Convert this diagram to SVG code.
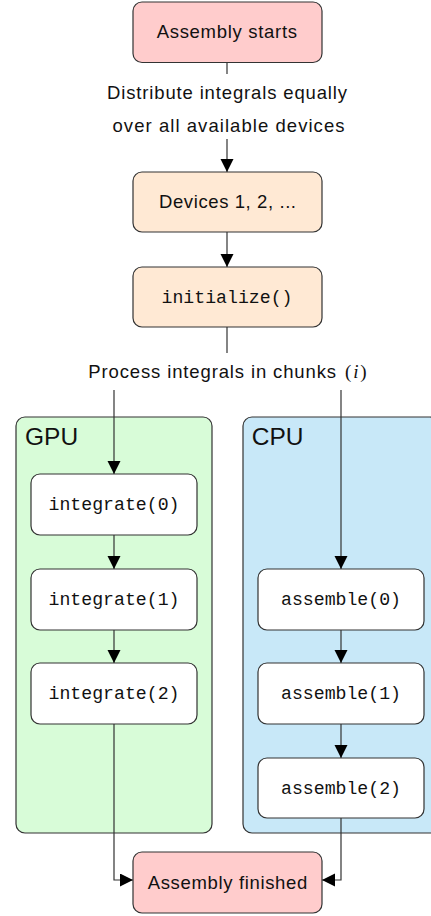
<svg xmlns="http://www.w3.org/2000/svg" width="431" height="916" viewBox="0 0 431 916">
<style>
.bg{fill:#ffffff}
.box{stroke:#333333;stroke-width:1.2}
.pink{fill:#ffcccc}
.peach{fill:#ffe9d4}
.white{fill:#ffffff}
.gpu{fill:#d8fcd8;stroke:#333333;stroke-width:1.2}
.cpu{fill:#c8e8f8;stroke:#333333;stroke-width:1.2}
.sans{font-family:"Liberation Sans",Arial,Helvetica,sans-serif;font-size:18.5px;fill:#111111}
.big{font-family:"Liberation Sans",Arial,Helvetica,sans-serif;font-size:24.5px;fill:#111111}
.mono{font-family:"Liberation Mono","DejaVu Sans Mono",monospace;font-size:18.2px;fill:#111111;text-anchor:middle}
.serif{font-family:"Liberation Serif","Times New Roman",serif;font-size:19px;fill:#111111}
.conn{fill:none;stroke:#333333;stroke-width:1.2}
</style>
<defs>
<marker id="arr" markerUnits="userSpaceOnUse" markerWidth="14" markerHeight="14" refX="13" refY="6.5" orient="auto">
<path d="M0,0 L13,6.5 L0,13 Z" fill="#000000"/>
</marker>
</defs>
<rect class="bg" x="0" y="0" width="431" height="916"/>

<g id="gpu-container">
<rect class="gpu" x="16" y="417" width="196" height="416" rx="9" ry="9"/>
<text class="big" x="25" y="445">GPU</text>
</g>
<g id="cpu-container">
<rect class="cpu" x="243" y="417" width="196" height="416" rx="9" ry="9"/>
<text class="big" x="251.7" y="445">CPU</text>
</g>

<g id="connectors">
<line class="conn" x1="227" y1="62.5" x2="227" y2="74"/>
<line class="conn" x1="227" y1="139" x2="227" y2="172" marker-end="url(#arr)"/>
<line class="conn" x1="227" y1="232" x2="227" y2="267" marker-end="url(#arr)"/>
<line class="conn" x1="227" y1="327" x2="227" y2="353"/>
<line class="conn" x1="114" y1="390" x2="114" y2="474" marker-end="url(#arr)"/>
<line class="conn" x1="341" y1="390" x2="341" y2="569" marker-end="url(#arr)"/>
<line class="conn" x1="114" y1="535" x2="114" y2="569" marker-end="url(#arr)"/>
<line class="conn" x1="114" y1="630" x2="114" y2="663" marker-end="url(#arr)"/>
<line class="conn" x1="341" y1="630" x2="341" y2="663" marker-end="url(#arr)"/>
<line class="conn" x1="341" y1="724" x2="341" y2="758" marker-end="url(#arr)"/>
<path class="conn" d="M114,724 V880 H133" marker-end="url(#arr)"/>
<path class="conn" d="M341,818 V880 H322" marker-end="url(#arr)"/>
</g>

<g id="label-distribute">
<text class="sans" x="107" y="98.5" textLength="240" lengthAdjust="spacing">Distribute integrals equally</text>
<text class="sans" x="112.5" y="131.5" textLength="232" lengthAdjust="spacing">over all available devices</text>
</g>
<g id="label-process">
<text class="sans" x="88.3" y="377.7" textLength="247.7" lengthAdjust="spacing">Process integrals in chunks</text>
<text class="serif" x="345" y="377.7" textLength="21.7" lengthAdjust="spacing">(<tspan font-style="italic">i</tspan>)</text>
</g>

<g id="assembly-starts">
<rect class="box pink" x="133" y="2" width="189" height="60.5" rx="9" ry="9"/>
<text class="sans" x="156.7" y="37.5" textLength="140.3" lengthAdjust="spacing">Assembly starts</text>
</g>
<g id="devices">
<rect class="box peach" x="133" y="172" width="189" height="60" rx="9" ry="9"/>
<text class="sans" x="159" y="208.3" textLength="137" lengthAdjust="spacing">Devices 1, 2, ...</text>
</g>
<g id="initialize">
<rect class="box peach" x="133" y="267" width="189" height="60" rx="9" ry="9"/>
<text class="mono" x="227" y="302.7">initialize()</text>
</g>

<g id="integrate0">
<rect class="box white" x="31" y="474" width="166" height="61" rx="9" ry="9"/>
<text class="mono" x="114" y="510.3">integrate(0)</text>
</g>
<g id="integrate1">
<rect class="box white" x="31" y="569" width="166" height="61" rx="9" ry="9"/>
<text class="mono" x="114" y="605.3">integrate(1)</text>
</g>
<g id="integrate2">
<rect class="box white" x="31" y="663" width="166" height="61" rx="9" ry="9"/>
<text class="mono" x="114" y="699.3">integrate(2)</text>
</g>

<g id="assemble0">
<rect class="box white" x="258" y="569" width="166" height="61" rx="9" ry="9"/>
<text class="mono" x="341" y="605.3">assemble(0)</text>
</g>
<g id="assemble1">
<rect class="box white" x="258" y="663" width="166" height="61" rx="9" ry="9"/>
<text class="mono" x="341" y="699.3">assemble(1)</text>
</g>
<g id="assemble2">
<rect class="box white" x="258" y="758" width="166" height="60" rx="9" ry="9"/>
<text class="mono" x="341" y="793.8">assemble(2)</text>
</g>

<g id="assembly-finished">
<rect class="box pink" x="133" y="852" width="189" height="61" rx="9" ry="9"/>
<text class="sans" x="147.7" y="888.5" textLength="159.6" lengthAdjust="spacing">Assembly finished</text>
</g>
</svg>
